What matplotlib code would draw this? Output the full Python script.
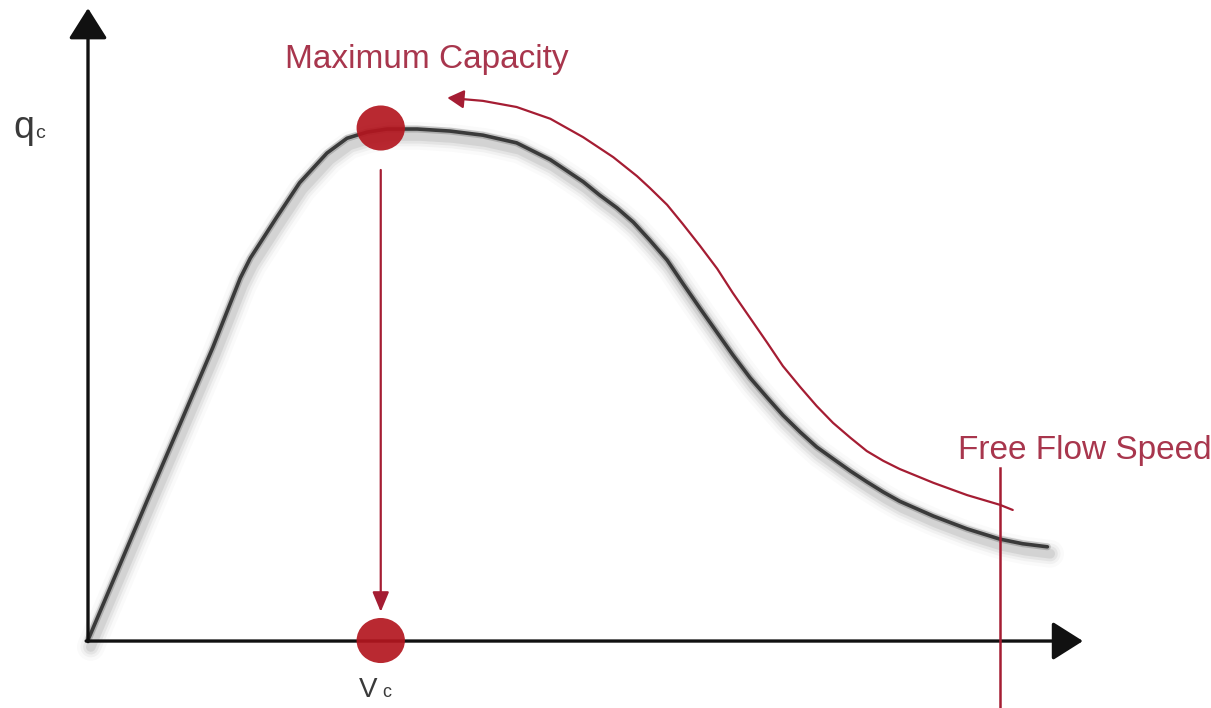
# Speed-flow curve: capacity point and free flow speed
import numpy as np
import matplotlib.pyplot as plt
import matplotlib.patheffects as pe
from matplotlib.patches import Ellipse, FancyArrowPatch
from matplotlib.path import Path

plt.rcParams['font.family'] = ['Liberation Sans', 'DejaVu Sans']

# flow (% of capacity) against speed (% of free flow speed)
speed = [0.0, 6.5, 10.1, 13.7, 16.7, 17.8, 20.7, 23.2, 26.2, 28.4, 30.6, 32.8,
         36.1, 39.7, 43.3, 47.0, 50.7, 54.3, 56.1, 58.0, 59.8, 61.6, 63.5, 65.2, 67.1,
         69.0, 70.7, 72.6, 74.5, 76.2, 78.1, 79.9, 81.7, 83.6, 85.4, 87.2, 89.0, 92.7,
         96.4, 100.0, 102.5, 105.2]
flow = [0.0, 27.3, 42.2, 57.2, 70.7, 74.6, 82.6, 89.3, 95.1, 98.0, 99.2, 99.8,
        99.8, 99.4, 98.6, 97.1, 93.8, 89.5, 86.9, 84.4, 81.6, 78.1, 74.2, 69.7, 64.8,
        60.0, 55.7, 51.2, 47.3, 43.9, 40.6, 37.7, 35.4, 33.0, 30.9, 28.9, 27.1, 24.2,
        21.7, 19.7, 18.8, 18.2]

# red trace running back up the curve towards capacity
trace_speed = [101.4, 100.0, 96.4, 92.7, 89.0, 87.2, 85.4, 83.6, 81.7, 79.9, 78.1,
               76.2, 74.5, 72.6, 70.7, 69.0, 67.1, 65.2, 63.5, 61.6, 60.2, 57.6,
               54.3, 50.7, 47.0, 43.3, 39.4]
trace_flow = [25.4, 26.4, 28.3, 30.7, 33.4, 35.0, 36.9, 39.5, 42.4, 45.7, 49.4,
              53.5, 58.0, 62.9, 67.8, 72.5, 77.0, 81.3, 85.0, 88.3, 90.6, 94.3,
              98.2, 101.8, 104.1, 105.3, 105.9]

v_c = 32.1
q_c = 100
v_free = 100

red = '#b3161f'
line_red = '#a51d33'
label_red = '#a8364d'
grey = '#3a3a3a'

fig = plt.figure(figsize=(12.11, 7.08), dpi=100)
ax = fig.add_axes([0, 0, 1, 1])
ax.set_xlim(-9.65, 123.14)
ax.set_ylim(-13.28, 125.0)
ax.axis('off')

# axes with arrow heads
axis_arrow = dict(arrowstyle='-|>,head_length=0.95,head_width=0.6',
                  color='#111111', lw=2.4, mutation_scale=20, shrinkA=0, shrinkB=0)
ax.annotate('', xy=(0, 123.4), xytext=(0, -0.3), arrowprops=axis_arrow)
ax.annotate('', xy=(109.1, -0.2), xytext=(-0.2, -0.2), arrowprops=axis_arrow)

# soft drop shadow under the curve
shadow = [pe.SimpleLineShadow(offset=(2, -5), shadow_color='k', alpha=a, linewidth=w)
          for w, a in [(20, 0.02), (15, 0.035), (11, 0.05), (7, 0.07)]]
shadow += [pe.SimpleLineShadow(offset=(0, 0), shadow_color='k', alpha=0.18, linewidth=5),
           pe.Normal()]
ax.plot(speed, flow, color=grey, lw=2.6, solid_capstyle='round',
        solid_joinstyle='round', path_effects=shadow, zorder=2)

# red trace with arrow head
trace = FancyArrowPatch(path=Path(list(zip(trace_speed, trace_flow))),
                        arrowstyle='-|>,head_length=0.5,head_width=0.28',
                        mutation_scale=20, color=line_red, lw=1.6,
                        joinstyle='round', zorder=3)
ax.add_patch(trace)

# drop from capacity to critical speed
ax.annotate('', xy=(v_c, 5.5), xytext=(v_c, 91.8),
            arrowprops=dict(arrowstyle='-|>,head_length=0.6,head_width=0.25',
                            color=line_red, lw=1.6, mutation_scale=20,
                            shrinkA=0, shrinkB=0), zorder=3)

# free flow speed marker
ax.plot([v_free, v_free], [33.6, -14], color=line_red, lw=1.8, zorder=3)

# capacity dots
for y in (q_c, -0.1):
    ax.add_patch(Ellipse((v_c, y), width=5.3, height=8.8, color=red,
                         alpha=0.92, lw=0, zorder=4))

# labels
ax.text(21.6, 113.3, 'Maximum Capacity', color=label_red, fontsize=24,
        ha='left', va='center')
ax.text(95.4, 37.1, 'Free Flow Speed', color=label_red, fontsize=24,
        ha='left', va='center')
ax.text(-8.2, 98.0, 'q', color=grey, fontsize=27, ha='left', va='baseline')
ax.text(-5.8, 98.0, 'c', color=grey, fontsize=14, ha='left', va='baseline')
ax.text(29.7, -11.1, 'V', color=grey, fontsize=20, ha='left', va='baseline')
ax.text(32.3, -11.1, 'c', color=grey, fontsize=13, ha='left', va='baseline')

plt.savefig('out.png', dpi=100)
